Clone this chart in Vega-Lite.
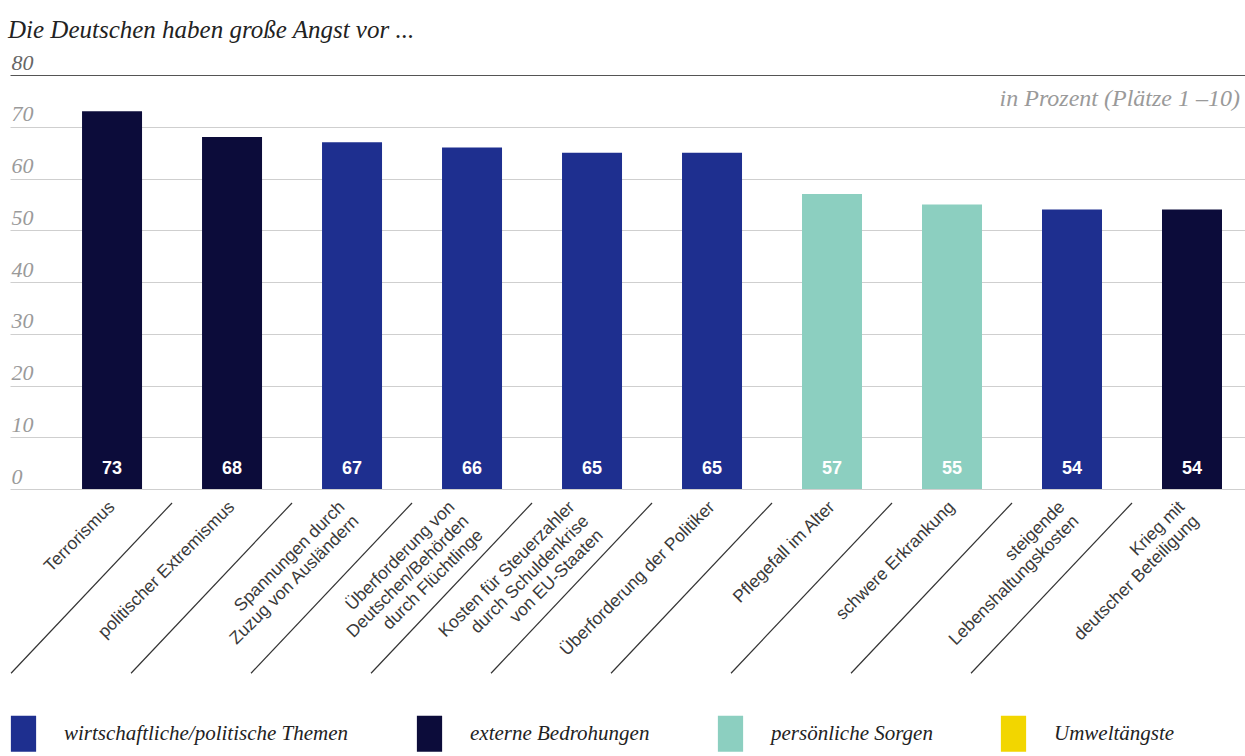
{
  "$schema": "https://vega.github.io/schema/vega-lite/v6.json",
  "autosize": "none",
  "width": 1235,
  "height": 414,
  "padding": {"left": 10, "top": 75, "right": 0, "bottom": 267},
  "background": "white",
  "title": {
    "text": "Die Deutschen haben große Angst vor ...",
    "anchor": "start",
    "frame": "group",
    "font": "Liberation Serif",
    "fontStyle": "italic",
    "fontWeight": "normal",
    "fontSize": 25,
    "color": "#222",
    "baseline": "alphabetic",
    "offset": -12,
    "dx": -2
  },
  "config": {
    "view": {"stroke": null},
    "axis": {"domain": false, "ticks": false}
  },
  "datasets": {
    "bars": [
      {"thema": "Terrorismus", "wert": 73, "gruppe": "externe Bedrohungen"},
      {"thema": "politischer Extremismus", "wert": 68, "gruppe": "externe Bedrohungen"},
      {"thema": "Spannungen durch|Zuzug von Ausländern", "wert": 67, "gruppe": "wirtschaftliche/politische Themen"},
      {"thema": "Überforderung von|Deutschen/Behörden|durch Flüchtlinge", "wert": 66, "gruppe": "wirtschaftliche/politische Themen"},
      {"thema": "Kosten für Steuerzahler|durch Schuldenkrise|von EU-Staaten", "wert": 65, "gruppe": "wirtschaftliche/politische Themen"},
      {"thema": "Überforderung der Politiker", "wert": 65, "gruppe": "wirtschaftliche/politische Themen"},
      {"thema": "Pflegefall im Alter", "wert": 57, "gruppe": "persönliche Sorgen"},
      {"thema": "schwere Erkrankung", "wert": 55, "gruppe": "persönliche Sorgen"},
      {"thema": "steigende|Lebenshaltungskosten", "wert": 54, "gruppe": "wirtschaftliche/politische Themen"},
      {"thema": "Krieg mit|deutscher Beteiligung", "wert": 54, "gruppe": "externe Bedrohungen"}
    ],
    "seps": [
      {"thema": "Terrorismus"},
      {"thema": "politischer Extremismus"},
      {"thema": "Spannungen durch|Zuzug von Ausländern"},
      {"thema": "Überforderung von|Deutschen/Behörden|durch Flüchtlinge"},
      {"thema": "Kosten für Steuerzahler|durch Schuldenkrise|von EU-Staaten"},
      {"thema": "Überforderung der Politiker"},
      {"thema": "Pflegefall im Alter"},
      {"thema": "schwere Erkrankung"},
      {"thema": "steigende|Lebenshaltungskosten"}
    ],
    "note": [{"text": "in Prozent (Plätze 1 –10)", "thema": "Krieg mit|deutscher Beteiligung", "y": 75.3}]
  },
  "layer": [
    {
      "data": {"name": "bars"},
      "mark": {"type": "bar"},
      "encoding": {
        "x": {
          "field": "thema", "type": "nominal",
          "scale": {
            "domain": [
              "Terrorismus",
              "politischer Extremismus",
              "Spannungen durch|Zuzug von Ausländern",
              "Überforderung von|Deutschen/Behörden|durch Flüchtlinge",
              "Kosten für Steuerzahler|durch Schuldenkrise|von EU-Staaten",
              "Überforderung der Politiker",
              "Pflegefall im Alter",
              "schwere Erkrankung",
              "steigende|Lebenshaltungskosten",
              "Krieg mit|deutscher Beteiligung"
            ],
            "paddingInner": 0.5, "paddingOuter": 0.396, "align": 0.758
          },
          "axis": {
            "title": null,
            "labelAngle": -45,
            "labelAlign": "right",
            "labelBaseline": "middle",
            "labelPadding": 15,
            "labelOffset": {
              "condition": [
                {"test": "length(split(datum.label, '|')) == 3", "value": -20},
                {"test": "length(split(datum.label, '|')) == 2", "value": -10}
              ],
              "value": 0
            },
            "labelExpr": "split(datum.label, '|')",
            "labelFont": "Liberation Sans",
            "labelFontSize": 17.5,
            "labelColor": "#3a3a3a",
            "labelLineHeight": 20,
            "labelLimit": 300
          }
        },
        "y": {
          "field": "wert", "type": "quantitative",
          "scale": {"domain": [0, 80]},
          "axis": {
            "title": null,
            "values": [0, 10, 20, 30, 40, 50, 60, 70, 80],
            "grid": true,
            "gridColor": {"condition": {"test": "datum.value == 80", "value": "#555"}, "value": "#cfcfcf"},
            "gridWidth": 1,
            "labelAlign": "left",
            "labelBaseline": "alphabetic",
            "labelPadding": -1,
            "labelOffset": -6,
            "labelFont": "Liberation Serif",
            "labelFontStyle": "italic",
            "labelFontSize": 22,
            "labelColor": {"condition": {"test": "datum.value == 80", "value": "#666"}, "value": "#9a9a9a"}
          }
        },
        "color": {
          "field": "gruppe", "type": "nominal",
          "scale": {
            "domain": ["wirtschaftliche/politische Themen", "externe Bedrohungen", "persönliche Sorgen", "Umweltängste"],
            "range": ["#1e2f8f", "#0c0c3a", "#8ccfc0", "#f2d600"]
          },
          "legend": {
            "title": null,
            "orient": "none",
            "legendX": -5,
            "legendY": 640,
            "direction": "horizontal",
            "symbolType": "M-0.7,-1L0.7,-1L0.7,1L-0.7,1Z",
            "symbolSize": 1300,
            "symbolStrokeWidth": 0,
            "symbolOpacity": 1,
            "labelFont": "Liberation Serif",
            "labelFontStyle": "italic",
            "labelFontSize": 21,
            "labelColor": "#222",
            "labelOffset": 22,
            "columnPadding": 62,
            "labelLimit": 500
          }
        }
      }
    },
    {
      "data": {"name": "bars"},
      "mark": {"type": "text", "color": "white", "font": "Liberation Sans", "fontWeight": "bold", "fontSize": 18, "baseline": "middle", "dy": -20},
      "encoding": {
        "x": {"field": "thema", "type": "nominal"},
        "y": {"datum": 0, "type": "quantitative"},
        "text": {"field": "wert", "type": "quantitative"}
      }
    },
    {
      "data": {"name": "seps"},
      "mark": {"type": "rule", "color": "#333", "strokeWidth": 1.2, "clip": false, "xOffset": 30, "x2Offset": -131},
      "encoding": {
        "x": {"field": "thema", "type": "nominal", "bandPosition": 1},
        "x2": {"field": "thema", "bandPosition": 1},
        "y": {"datum": -2.7},
        "y2": {"datum": -35.6}
      }
    },
    {
      "data": {"name": "note"},
      "mark": {"type": "text", "align": "right", "baseline": "middle", "font": "Liberation Serif", "fontStyle": "italic", "fontSize": 24, "color": "#9a9a9a", "dx": 18},
      "encoding": {
        "x": {"field": "thema", "type": "nominal", "bandPosition": 1},
        "y": {"field": "y", "type": "quantitative"},
        "text": {"field": "text"}
      }
    }
  ]
}
